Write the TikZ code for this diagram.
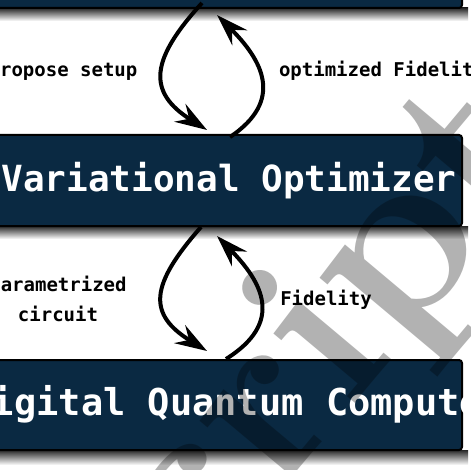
\documentclass[tikz,border=0pt]{standalone}
\usepackage{fontspec}
\setmonofont{DejaVu Sans Mono}
\usetikzlibrary{arrows.meta}
\definecolor{navy}{RGB}{10,41,66}
\tikzstyle{panel}=[draw=black, line width=2pt, fill=navy, rounded corners=3pt]
\tikzstyle{paneltext}=[text=white, anchor=base, inner sep=0pt, font=\ttfamily\bfseries\fontsize{36}{36}\selectfont]
\tikzstyle{tag}=[text=black, inner sep=0pt, font=\ttfamily\bfseries\fontsize{19}{30}\selectfont, align=center]
\tikzstyle{flow}=[line width=4pt, -{Stealth[length=32pt,width=21pt,inset=11pt]}]
\tikzstyle{boxshadow}=[top color=black!85, bottom color=white]

\begin{document}
\begin{tikzpicture}[x=1pt, y=-1pt]
\useasboundingbox (0,0) rectangle (470,470);
\clip (0,0) rectangle (470,470);
\fill[white] (0,0) rectangle (470,470);
% Shadows
    \shade[boxshadow] (-10,8) rectangle (468,21);
    \shade[boxshadow] (-10,226) rectangle (468,239);
    \shade[boxshadow] (-10,450) rectangle (468,465);
% Boxes
    \draw[panel] (-20,-100) rectangle (462,8);
    \draw[panel] (-20,135) rectangle (462,226);
    \draw[panel] (-20,360) rectangle (462,450);
    \node[paneltext] (opt) at (229,192) {Variational Optimizer};
    \node[paneltext, font=\ttfamily\bfseries\fontsize{37}{37}\selectfont] (dqc) at (237,415) {Digital Quantum Computer};
% Labels
    \node[tag, anchor=base] (propose) at (63,77) {propose setup};
    \node[tag, anchor=base] (optfid) at (382,77) {optimized Fidelity};
    \node[tag] (param) at (58,299) {parametrized\\circuit};
    \node[tag, anchor=base] (fid) at (326,305) {Fidelity};
% Arrow ends
    \coordinate (topL) at (202,3);
    \coordinate (optL) at (207,130);
    \coordinate (optR) at (230,137);
    \coordinate (topR) at (217,15);
    \coordinate (optBL) at (201,227);
    \coordinate (dqcL) at (207,351);
    \coordinate (dqcR) at (226,359);
    \coordinate (optBR) at (217,236);
% Loops
    \draw[flow] (topL) .. controls (150,60) and (147,92) .. (optL);
    \draw[flow] (optR) .. controls (285,100) and (262,60) .. (topR);
    \draw[flow] (optBL) .. controls (150,285) and (147,314) .. (dqcL);
    \draw[flow] (dqcR) .. controls (285,322) and (262,282) .. (optBR);
% Watermark
    \node[rotate=50, anchor=base, text=black, opacity=0.3, font=\rmfamily\bfseries\fontsize{242}{242}\selectfont] (mark) at (346,414) {script};
\end{tikzpicture}
\end{document}
